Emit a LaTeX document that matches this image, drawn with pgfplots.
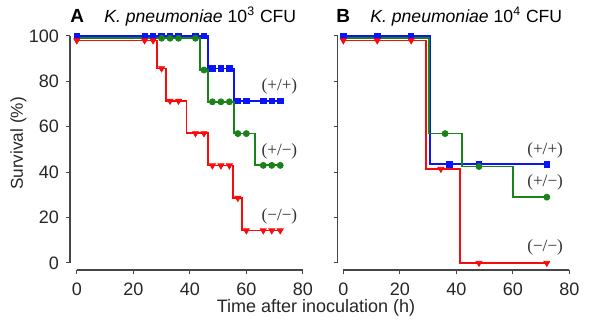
\documentclass[border=0pt]{standalone}
\usepackage{fontspec}
\setmainfont{Liberation Sans}
\newfontfamily\seriffont{Liberation Serif}
\usepackage{pgfplots}
\pgfplotsset{compat=1.18}
\definecolor{kmblue}{RGB}{10,20,245}
\definecolor{kmgreen}{RGB}{25,130,25}
\definecolor{kmred}{RGB}{250,10,10}
\definecolor{spinecol}{RGB}{70,70,70}
\tikzset{lab/.style={font=\seriffont\fontsize{8.6}{10}\selectfont, text=black!80}}
\pgfplotsset{
  km/.style={
    x=1.413pt, y=1.135pt,
    ymin=-3, ymax=103, xmax=82,
    axis x line=bottom, axis y line=left,
    separate axis lines,
    axis line style={-, draw=spinecol, line width=0.7pt},
    y axis line style={shorten <=3.4pt, shorten >=3.4pt},
    tick align=outside,
    major tick length=2pt,
    tick style={spinecol, line width=0.5pt},
    xtick={0,20,40,60,80}, ytick={0,20,40,60,80,100},
    /pgf/number format/assume math mode=true,
    tick label style={font=\fontsize{9}{10}\selectfont, text=black!85},
    xticklabel style={yshift=-1pt},
    clip=false,
  },
  kmline/.style={const plot mark left, no marks, line width=0.9pt},
  sq/.style={only marks, mark=square*, mark size=1.35pt},
  ci/.style={only marks, mark=*, mark size=1.5pt},
  tr/.style={only marks, mark=triangle*, mark size=1.7pt, mark options={rotate=180}},
}
\begin{document}
\begin{tikzpicture}
\useasboundingbox (0,0) rectangle (300pt,165pt);
% Panel A
\begin{axis}[km, xmin=-2.4, anchor=south west, at={(35pt,30.1pt)},
  x axis line style={shorten <=3.39pt, shorten >=2.83pt}]
\addplot[kmblue, kmline] coordinates {(0,100)(46.5,85.7)(55.5,71.4)(72,71.4)};
\addplot[kmblue, sq] coordinates {(0,100)(24,100)(27,100)(30,100)(33,100)(36,100)(42,100)(45,100)(48,85.7)(51,85.7)(54,85.7)(57,71.4)(60,71.4)(66,71.4)(69,71.4)(72,71.4)};
\addplot[kmred, kmline] coordinates {(0,98)(28.4,85.7)(31.5,71.4)(38.8,57.1)(46.5,42.9)(55.2,28.6)(58.5,14.3)(72,14.3)};
\addplot[kmred, tr] coordinates {(0,98)(24,98)(27,98)(30,85.7)(33,71.4)(36,71.4)(42,57.1)(45,57.1)(48,42.9)(51,42.9)(54,42.9)(57,28.6)(60,14.3)(66,14.3)(69,14.3)(72,14.3)};
\addplot[kmgreen, kmline] coordinates {(0,99)(43.5,85)(46.5,71)(55.5,57)(63,43)(72,43)};
\addplot[kmgreen, ci] coordinates {(30,99)(33,99)(36,99)(42,99)(45,85)(48,71)(51,71)(54,71)(57,57)(60,57)(66,43)(69,43)(72,43)};
\node[lab] at (axis cs:71.7,78) {(+/+)};
\node[lab] at (axis cs:71.7,49) {(+/−)};
\node[lab] at (axis cs:71.7,20.4) {(−/−)};
\end{axis}
% Panel B
\begin{axis}[km, xmin=-2.0, yticklabels={}, anchor=south west, at={(168.85pt,30.1pt)},
  x axis line style={shorten <=2.83pt, shorten >=2.83pt}]
\addplot[kmblue, kmline] coordinates {(0,100)(30.8,43.5)(72,43.5)};
\addplot[kmblue, sq] coordinates {(0,100)(12,100)(24,100)(37.5,43.5)(48,43.5)(72,43.5)};
\addplot[kmred, kmline] coordinates {(0,98)(29.3,41.4)(41.3,0)(72,0)};
\addplot[kmred, tr] coordinates {(0,98)(12,98)(24,98)(34.5,41.4)(48,0)(72,0)};
\addplot[kmgreen, kmline] coordinates {(0,99)(30.2,57)(42,42.5)(60,29)(72,29)};
\addplot[kmgreen, ci] coordinates {(36,57)(48,42.5)(72,29)};
\node[lab] at (axis cs:71.4,49.8) {(+/+)};
\node[lab] at (axis cs:71.4,35.4) {(+/−)};
\node[lab] at (axis cs:71.4,7) {(−/−)};
\end{axis}
% spines of the x axes, drawn again in picture coordinates
\draw[spinecol, line width=0.8pt] (38.39pt,30.1pt) -- ++(113.04pt,0pt);
\draw[spinecol, line width=0.8pt] (171.68pt,30.1pt) -- ++(113.04pt,0pt);
% Titles and labels
\node[anchor=base west, font=\fontsize{9.5}{11}\selectfont\bfseries, inner sep=0pt] at (35pt,153.5pt) {A};
\node[anchor=base west, font=\fontsize{8.8}{10}\selectfont, inner sep=0pt] at (52pt,153.5pt) {\textit{K. pneumoniae} 10\textsuperscript{3} CFU};
\node[anchor=base west, font=\fontsize{9.5}{11}\selectfont\bfseries, inner sep=0pt] at (168pt,153.5pt) {B};
\node[anchor=base west, font=\fontsize{8.8}{10}\selectfont, inner sep=0pt] at (185pt,153.5pt) {\textit{K. pneumoniae} 10\textsuperscript{4} CFU};
\node[anchor=base, font=\fontsize{9}{10}\selectfont, text=black!85] at (158pt,8.5pt) {Time after inoculation (h)};
\node[rotate=90, font=\fontsize{8.6}{10}\selectfont, text=black!85] at (9.25pt,93.25pt) {Survival (\%)};
\end{tikzpicture}
\end{document}
